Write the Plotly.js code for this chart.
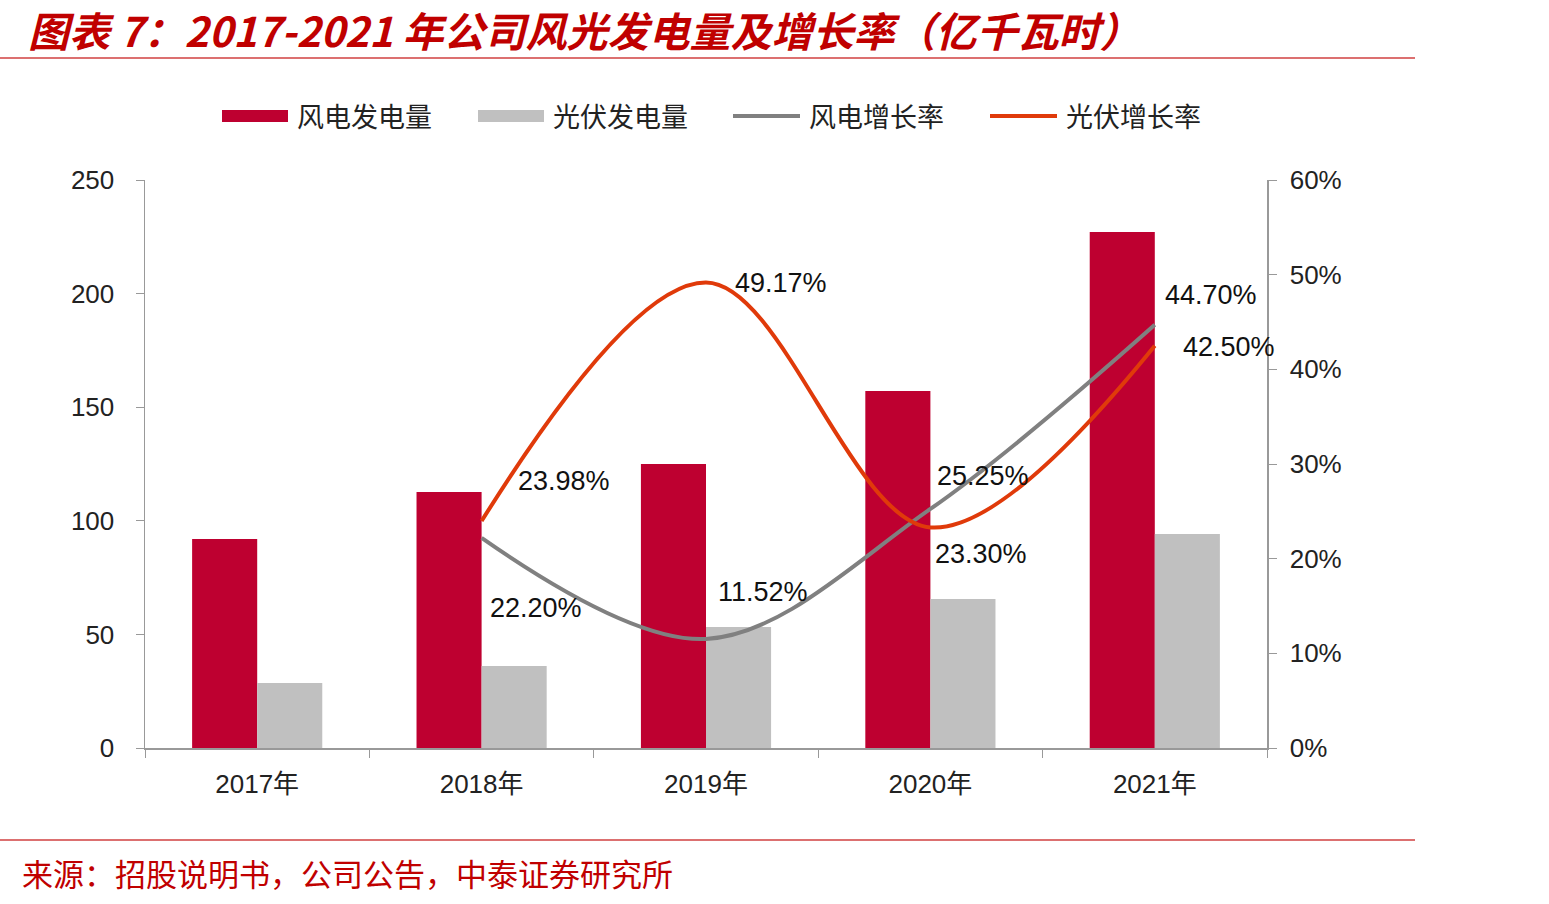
<!DOCTYPE html>
<html>
<head>
<meta charset="utf-8">
<script src="https://cdn.plot.ly/plotly-3.0.1.min.js"></script>
<style>html,body{margin:0;padding:0;background:#fff;}#chart{width:1549px;height:904px;}</style>
</head>
<body>
<div id="chart"></div>
<script>
const categories = ["2017年", "2018年", "2019年", "2020年", "2021年"];
const windGen = [92.0, 112.7, 125.0, 157.1, 227.1];
const solarGen = [28.6, 36.1, 53.3, 65.6, 94.2];
const growthCats = ["2018年", "2019年", "2020年", "2021年"];
const windGrowth = [0.2220, 0.1152, 0.2525, 0.4470];
const solarGrowth = [0.2398, 0.4917, 0.2330, 0.4250];
const windGrowthLabels = ["22.20%", "11.52%", "25.25%", "44.70%"];
const solarGrowthLabels = ["23.98%", "49.17%", "23.30%", "42.50%"];
const seriesNames = ["风电发电量", "光伏发电量", "风电增长率", "光伏增长率"];
const titleText = "图表 7：2017-2021 年公司风光发电量及增长率（亿千瓦时）";
const sourceText = "来源：招股说明书，公司公告，中泰证券研究所";

const RED = "#be0030", GRAY_BAR = "#c0c0c0", GRAY_LINE = "#808080", ORANGE = "#e03a0a";
const TITLE_RED = "#c00000";
const numFont = "Liberation Sans, Arial, Noto Sans CJK SC, sans-serif";
const cjkFont = "Noto Sans CJK SC, sans-serif";

// plot area pixel geometry
const L = 145, R = 1267, T = 180, B = 748, W = 1549, H = 904;
const px = x => (x - L) / (R - L);
const py = y => (B - y) / (B - T);

const traces = [
  {type: "bar", x: categories, y: windGen, name: seriesNames[0], marker: {color: RED}, showlegend: false, hoverinfo: "skip"},
  {type: "bar", x: categories, y: solarGen, name: seriesNames[1], marker: {color: GRAY_BAR}, showlegend: false, hoverinfo: "skip"},
  {type: "scatter", mode: "lines", x: growthCats, y: windGrowth, yaxis: "y2", name: seriesNames[2],
   line: {color: GRAY_LINE, width: 4, shape: "spline", smoothing: 1}, showlegend: false, hoverinfo: "skip"},
  {type: "scatter", mode: "lines", x: growthCats, y: solarGrowth, yaxis: "y2", name: seriesNames[3],
   line: {color: ORANGE, width: 4, shape: "spline", smoothing: 1}, showlegend: false, hoverinfo: "skip"}
];

const windShifts = [[54, -70], [57, 47], [53, 33], [56, 30]];
const solarShifts = [[82, 40], [75, 0], [51, -27], [74, -1]];

const annotations = [];
growthCats.forEach((c, i) => {
  annotations.push({x: c, y: windGrowth[i], xref: "x", yref: "y2", text: windGrowthLabels[i], showarrow: false,
    xshift: windShifts[i][0], yshift: windShifts[i][1], font: {family: numFont, size: 27, color: "#111"}});
  annotations.push({x: c, y: solarGrowth[i], xref: "x", yref: "y2", text: solarGrowthLabels[i], showarrow: false,
    xshift: solarShifts[i][0], yshift: solarShifts[i][1], font: {family: numFont, size: 27, color: "#111"}});
});

// title & source
annotations.push({xref: "paper", yref: "paper", x: px(26), y: py(29), xanchor: "left", yanchor: "middle",
  text: "<b><i>" + titleText + "</i></b>", showarrow: false, font: {family: cjkFont, size: 41, color: TITLE_RED}});
annotations.push({xref: "paper", yref: "paper", x: px(20), y: py(872), xanchor: "left", yanchor: "middle",
  text: sourceText, showarrow: false, font: {family: cjkFont, size: 31, color: TITLE_RED}});

// custom legend
const legendItems = [
  {x0: 222, x1: 288, tx: 295, kind: "rect", color: RED},
  {x0: 478, x1: 544, tx: 551, kind: "rect", color: GRAY_BAR},
  {x0: 733, x1: 800, tx: 807, kind: "line", color: GRAY_LINE},
  {x0: 990, x1: 1057, tx: 1064, kind: "line", color: ORANGE}
];
const shapes = [
  {type: "line", xref: "paper", yref: "paper", x0: px(0), x1: px(1415), y0: py(58), y1: py(58), line: {color: "#d04040", width: 1.5}},
  {type: "line", xref: "paper", yref: "paper", x0: px(0), x1: px(1415), y0: py(840), y1: py(840), line: {color: "#d04040", width: 1.5}}
];
legendItems.forEach((it, i) => {
  if (it.kind === "rect") {
    shapes.push({type: "rect", xref: "paper", yref: "paper", x0: px(it.x0), x1: px(it.x1), y0: py(122), y1: py(110),
      fillcolor: it.color, line: {width: 0}});
  } else {
    shapes.push({type: "line", xref: "paper", yref: "paper", x0: px(it.x0), x1: px(it.x1), y0: py(116), y1: py(116),
      line: {color: it.color, width: 4}});
  }
  annotations.push({xref: "paper", yref: "paper", x: px(it.tx), y: py(116), xanchor: "left", yanchor: "middle",
    text: seriesNames[i], showarrow: false, font: {family: cjkFont, size: 27, color: "#222"}});
});

const layout = {
  width: W, height: H,
  margin: {l: L, r: W - R, t: T, b: H - B, pad: 0, autoexpand: false},
  paper_bgcolor: "#fff", plot_bgcolor: "#fff",
  barmode: "group", bargap: 0.42, bargroupgap: 0,
  showlegend: false,
  xaxis: {type: "category", range: [-0.5, 4.5], automargin: false, showline: true, linecolor: "#999", linewidth: 1.5,
    ticks: "outside", tickson: "boundaries", ticklen: 8, tickcolor: "#999", showgrid: false, zeroline: false,
    tickfont: {family: numFont, size: 26, color: "#222"}, ticklabelstandoff: 12},
  yaxis: {range: [0, 250], dtick: 50, automargin: false, showline: true, linecolor: "#999", linewidth: 1.5, ticks: "outside", ticklen: 8,
    tickcolor: "#999", showgrid: false, zeroline: false, tickfont: {family: numFont, size: 26, color: "#222"},
    ticklabelstandoff: 16},
  yaxis2: {overlaying: "y", side: "right", range: [0, 0.6], dtick: 0.1, tickformat: ".0%", automargin: false, showline: true, linecolor: "#999",
    linewidth: 1.5, ticks: "outside", ticklen: 8, tickcolor: "#999", showgrid: false, zeroline: false,
    tickfont: {family: numFont, size: 26, color: "#222"}, ticklabelstandoff: 8},
  shapes: shapes,
  annotations: annotations
};

Plotly.newPlot("chart", traces, layout, {staticPlot: true, displayModeBar: false});
</script>
</body>
</html>
